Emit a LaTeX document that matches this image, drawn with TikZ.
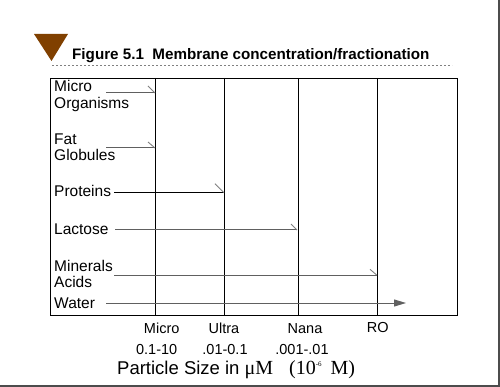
\documentclass[tikz,border=0pt]{standalone}
\usepackage{fontspec}
\setmainfont{Liberation Sans}
\newfontfamily\serifx{Liberation Serif}
\usetikzlibrary{arrows.meta}
\definecolor{brownx}{RGB}{128,64,0}
\tikzset{
  lab/.style={font=\fontsize{15.5}{16.3}\selectfont, anchor=base west, inner sep=0pt, align=left},
  blab/.style={font=\fontsize{14.5}{15}\selectfont, anchor=base, inner sep=0pt},
  gridline/.style={draw=black, line width=0.9pt},
  conn/.style={draw=gray!75!black, line width=1pt},
  tickline/.style={draw=gray, line width=0.9pt},
}
\begin{document}
\begin{tikzpicture}[x=1pt,y=-1pt]
\useasboundingbox (0,0) rectangle (500,387);
\fill[white] (0,0) rectangle (500,387);
\draw[gray!60!black, line width=1.5pt] (0,386) -- (499,386) -- (499,0);
% marker and title
\fill[brownx] (34,34) -- (68,34) -- (51.5,61) -- cycle;
\node[anchor=base west, inner sep=0pt, font=\bfseries\fontsize{15.2}{16}\selectfont] (title) at (72,60) {Figure 5.1\ \ Membrane concentration/fractionation};
\draw[gray, dash pattern=on 2pt off 2pt, line width=0.8pt] (52,65.5) -- (452,65.5);
% box and vertical lines
\draw[gridline] (50,78) rectangle (457,315);
\coordinate (v1t) at (155,78); \coordinate (v1b) at (155,315);
\coordinate (v2t) at (224,78); \coordinate (v2b) at (224,315);
\coordinate (v3t) at (298,78); \coordinate (v3b) at (298,315);
\coordinate (v4t) at (377,78); \coordinate (v4b) at (377,315);
\draw[gridline] (v1t) -- (v1b);
\draw[gridline] (v2t) -- (v2b);
\draw[gridline] (v3t) -- (v3b);
\draw[gridline] (v4t) -- (v4b);
% left labels (base = last line)
\node[lab] (micro) at (54,108.3) {Micro\\Organisms};
\node[lab] (fat) at (54,161) {Fat\\Globules};
\node[lab] (prot) at (54,196.7) {Proteins};
\node[lab] (lact) at (54,234) {Lactose};
\node[lab] (minr) at (54,287.3) {Minerals\\Acids};
\node[lab] (water) at (54,308.3) {Water};
% connectors
\coordinate (m0) at (106,93); \coordinate (m1) at (155,93);
\draw[conn] (m0) -- (m1); \draw[tickline] (m1) -- ++(-7,-7);
\coordinate (f0) at (106,148); \coordinate (f1) at (155,148);
\draw[conn] (f0) -- (f1); \draw[tickline] (f1) -- ++(-7,-6);
\coordinate (p0) at (114,192.7); \coordinate (p1) at (224,192.7);
\draw[draw=black, line width=1.3pt] (p0) -- (p1); \draw[tickline] (p1) -- ++(-9,-9);
\coordinate (l0) at (115,230); \coordinate (l1) at (297,230);
\draw[conn] (l0) -- (l1); \draw[tickline] (l1) -- ++(-6,-6);
\coordinate (n0) at (114,275.3); \coordinate (n1) at (377,275.3);
\draw[conn] (n0) -- (n1); \draw[tickline] (n1) -- ++(-7,-6);
\coordinate (w0) at (106,303); \coordinate (w1) at (406,303);
\draw[conn, -{Triangle[length=12pt,width=7pt]}] (w0) -- (w1);
% bottom labels
\node[blab] (bmicro) at (161.7,333.3) {Micro};
\node[blab] (bultra) at (224,333.3) {Ultra};
\node[blab] (bnana) at (305,333.3) {Nana};
\node[blab] (bro) at (377.7,332.3) {RO};
\node[blab] (smicro) at (156.7,354.3) {0.1-10};
\node[blab] (sultra) at (225,354.3) {.01-0.1};
\node[blab] (snana) at (302,354.3) {.001-.01};
\node[anchor=base west, inner sep=0pt, font=\fontsize{18.5}{20}\selectfont] (axis) at (117,374) {Particle Size in {\serifx\fontsize{20}{20}\selectfont μM\hspace{16pt}(10\raisebox{8pt}{\fontsize{7}{7}\selectfont -6}\hspace{9pt}M)}};
\end{tikzpicture}
\end{document}
